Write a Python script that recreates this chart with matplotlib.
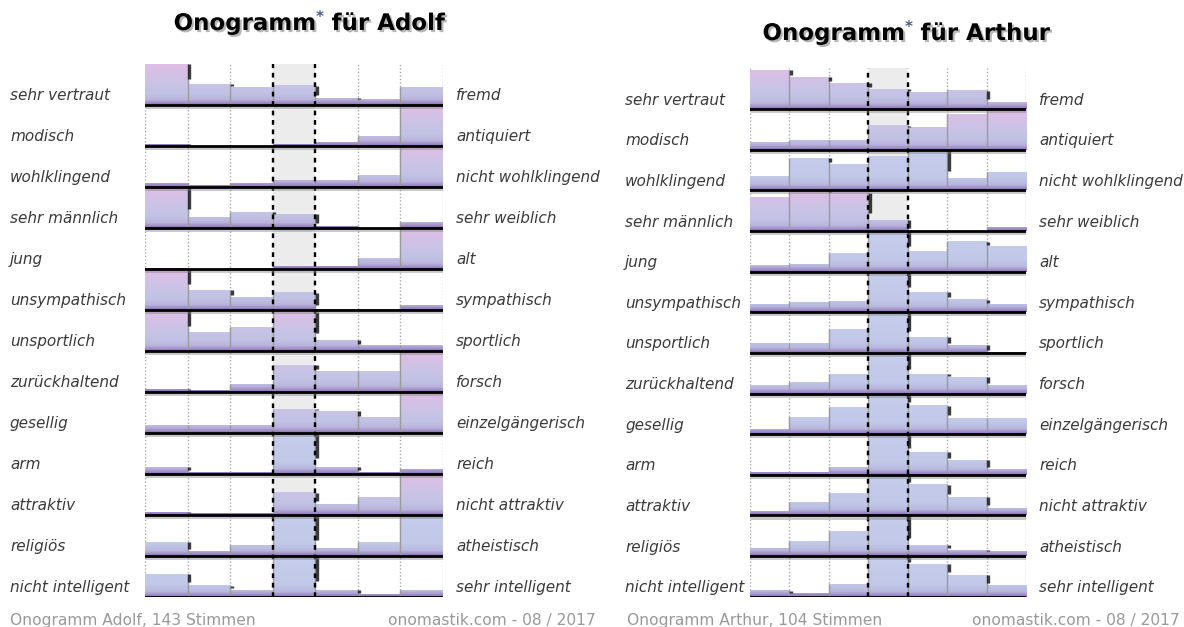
import numpy as np
import matplotlib
matplotlib.use("Agg")
import matplotlib.pyplot as plt
from matplotlib import transforms
from matplotlib import patheffects as pe
from matplotlib.colors import LinearSegmentedColormap

# ---------------- data ----------------
left_labels = ["sehr vertraut", "modisch", "wohlklingend", "sehr männlich", "jung",
               "unsympathisch", "unsportlich", "zurückhaltend", "gesellig", "arm",
               "attraktiv", "religiös", "nicht intelligent"]
right_labels = ["fremd", "antiquiert", "nicht wohlklingend", "sehr weiblich", "alt",
                "sympathisch", "sportlich", "forsch", "einzelgängerisch", "reich",
                "nicht attraktiv", "atheistisch", "sehr intelligent"]

# bar heights per row (fraction of the row's maximum), 7 columns each
adolf_values = [
    [1.00, 0.52, 0.44, 0.48, 0.18, 0.14, 0.44],
    [0.06, 0.00, 0.00, 0.05, 0.09, 0.25, 1.00],
    [0.09, 0.06, 0.09, 0.16, 0.16, 0.29, 1.00],
    [1.00, 0.27, 0.39, 0.34, 0.04, 0.00, 0.15],
    [0.03, 0.01, 0.03, 0.08, 0.08, 0.28, 1.00],
    [1.00, 0.50, 0.32, 0.43, 0.03, 0.03, 0.12],
    [1.00, 0.47, 0.59, 0.96, 0.28, 0.14, 0.14],
    [0.08, 0.05, 0.20, 0.67, 0.52, 0.52, 1.00],
    [0.20, 0.20, 0.20, 0.59, 0.54, 0.38, 1.00],
    [0.18, 0.06, 0.06, 1.00, 0.18, 0.06, 0.13],
    [0.08, 0.05, 0.05, 0.55, 0.28, 0.43, 1.00],
    [0.34, 0.11, 0.27, 1.00, 0.20, 0.34, 0.97],
    [0.57, 0.29, 0.18, 1.00, 0.18, 0.07, 0.18],
]
arthur_values = [
    [0.97, 0.80, 0.65, 0.50, 0.42, 0.46, 0.18],
    [0.18, 0.24, 0.24, 0.60, 0.56, 0.87, 1.00],
    [0.35, 0.80, 0.65, 0.85, 1.00, 0.30, 0.46],
    [0.84, 1.00, 0.95, 0.28, 0.00, 0.00, 0.09],
    [0.15, 0.18, 0.45, 1.00, 0.50, 0.75, 0.63],
    [0.20, 0.24, 0.28, 1.00, 0.50, 0.32, 0.20],
    [0.24, 0.24, 0.59, 1.00, 0.39, 0.20, 0.03],
    [0.21, 0.28, 0.48, 1.00, 0.48, 0.41, 0.21],
    [0.13, 0.43, 0.67, 1.00, 0.71, 0.39, 0.39],
    [0.06, 0.06, 0.19, 1.00, 0.56, 0.37, 0.14],
    [0.12, 0.32, 0.54, 1.00, 0.77, 0.46, 0.19],
    [0.20, 0.36, 0.62, 1.00, 0.27, 0.16, 0.12],
    [0.16, 0.08, 0.32, 1.00, 0.81, 0.54, 0.28],
]
# rows drawn with pink-topped gradient (1) or plain blue (0)
adolf_pink = [1, 1, 1, 1, 1, 1, 1, 1, 1, 0, 1, 0, 0]
arthur_pink = [1, 1, 0, 1, 0, 0, 0, 0, 0, 0, 0, 0, 0]

adolf_footer = "Onogramm Adolf, 143 Stimmen"
arthur_footer = "Onogramm Arthur, 104 Stimmen"
source_text = "onomastik.com - 08 / 2017"

# ---------------- style ----------------
W, H = 1184, 627
fig = plt.figure(figsize=(W / 100, H / 100), dpi=100)
fig.patch.set_facecolor("white")

def rgb(*c):
    return tuple(v / 255 for v in c)

pink_cmap = LinearSegmentedColormap.from_list("pinkgrad", [
    (0.00, rgb(130, 108, 175)),
    (0.05, rgb(160, 140, 198)),
    (0.13, rgb(186, 180, 220)),
    (0.28, rgb(194, 194, 228)),
    (0.50, rgb(200, 196, 230)),
    (0.80, rgb(214, 192, 228)),
    (1.00, rgb(224, 190, 228)),
])
blue_cmap = LinearSegmentedColormap.from_list("bluegrad", [
    (0.00, rgb(130, 108, 175)),
    (0.05, rgb(160, 140, 198)),
    (0.13, rgb(184, 184, 222)),
    (0.30, rgb(194, 200, 232)),
    (1.00, rgb(198, 206, 236)),
])

label_kw = dict(fontsize=11, style="italic", color="#3a3a3a",
                family="DejaVu Sans", va="center")


def draw_chart(rect, values, pink, lx, rx):
    ax = fig.add_axes(rect)
    ncols = len(values[0])
    nrows = len(values)
    ax.axvspan(3, 4, color="#ececec", zorder=0, lw=0)
    for k in [0, 1, 2, 5, 6, 7]:
        ax.axvline(k, color="#a8a8a8", lw=1.0, ls=(0, (1, 1.5)), zorder=1)
    shadow_tr = transforms.offset_copy(ax.transData, fig=fig, x=1.6, y=0, units="dots")
    for i, row in enumerate(values):
        base = nrows - 1 - i
        cmap = pink_cmap if pink[i] else blue_cmap
        grad = cmap(np.linspace(0, 1, 256))[:, None, :3]
        bars = ax.bar(np.arange(ncols), row, width=1, bottom=base, align="edge",
                      color="none", edgecolor="none", zorder=2)
        for j, b in enumerate(bars):
            if row[j] <= 0:
                continue
            im = ax.imshow(grad, extent=(j, j + 1, base, base + 1), origin="lower",
                           aspect="auto", interpolation="bilinear", zorder=2)
            im.set_clip_path(b)
        # bar edges
        for k in range(1, ncols):
            top = max(row[k - 1], row[k])
            if top > 0:
                ax.vlines(k, base, base + top, color="#9a9a9a", lw=1.0, zorder=3)
        # step shadows
        for k in range(1, ncols + 1):
            lft = row[k - 1]
            rgt = row[k] if k < ncols else 0.0
            if lft > rgt + 0.02:
                if k < ncols:
                    y1 = base + rgt + 0.25 * (lft - rgt)
                    ax.plot([k, k], [base + lft - 0.01, y1], color="#1a1a1a", lw=2.4,
                            alpha=0.85, transform=shadow_tr, zorder=4,
                            solid_capstyle="butt")
                else:
                    ax.plot([k, k], [base + lft, base], color="#555555", lw=2.2,
                            alpha=0.85, transform=shadow_tr, zorder=4,
                            solid_capstyle="butt")
        ax.hlines(base, -0.03, ncols + 0.03, color="black", lw=2.0, zorder=6,
                  path_effects=[pe.SimpleLineShadow(offset=(1, -1.5),
                                                    shadow_color="gray", alpha=0.45),
                                pe.Normal()])
        tr = transforms.blended_transform_factory(fig.transFigure, ax.transData)
        ax.text(lx, base + 0.22, left_labels[i], transform=tr, ha="left", **label_kw)
        ax.text(rx, base + 0.22, right_labels[i], transform=tr, ha="left", **label_kw)
    for k in [3, 4]:
        ax.axvline(k, color="black", lw=1.7, ls=(0, (2, 2)), zorder=5)
    ax.set_xlim(0, ncols)
    ax.set_ylim(0, nrows)
    ax.axis("off")
    return ax


draw_chart([145 / W, (H - 597) / H, 298 / W, 533 / H], adolf_values, adolf_pink,
           10 / W, 456 / W)
draw_chart([750 / W, (H - 596.7) / H, 276 / W, 528.3 / H], arthur_values, arthur_pink,
           625 / W, 1039 / W)

# ---------------- titles ----------------
renderer = fig.canvas.get_renderer()
shadow = [pe.withSimplePatchShadow(offset=(1.5, -1.5), shadow_rgbFace="#888888", alpha=0.6)]


def title(xc_px, base_px, name):
    kw = dict(fontsize=16.5, fontweight="bold", family="DejaVu Sans", color="black",
              va="baseline", ha="left", path_effects=shadow)
    y = 1 - base_px / H
    t1 = fig.text(0, y, "Onogramm", **kw)
    t2 = fig.text(0, y + 8 / H, "*", fontsize=11, color="#4b5b8c", va="baseline",
                  ha="left", family="DejaVu Sans", fontweight="bold")
    t3 = fig.text(0, y, " für " + name, **kw)
    w1 = t1.get_window_extent(renderer).width
    w2 = t2.get_window_extent(renderer).width
    w3 = t3.get_window_extent(renderer).width
    x0 = xc_px - (w1 + w2 + w3) / 2
    t1.set_x(x0 / W)
    t2.set_x((x0 + w1) / W)
    t3.set_x((x0 + w1 + w2) / W)


title(309, 30, "Adolf")
title(906, 40, "Arthur")

# ---------------- footers ----------------
foot_kw = dict(fontsize=11.2, color="#999999", family="DejaVu Sans", va="baseline")
fy = 1 - 625 / H
fig.text(10 / W, fy, adolf_footer, ha="left", **foot_kw)
fig.text(596 / W, fy, source_text, ha="right", **foot_kw)
fig.text(627 / W, fy, arthur_footer, ha="left", **foot_kw)
fig.text(1180 / W, fy, source_text, ha="right", **foot_kw)

fig.savefig("out.png", dpi=100, facecolor="white")
